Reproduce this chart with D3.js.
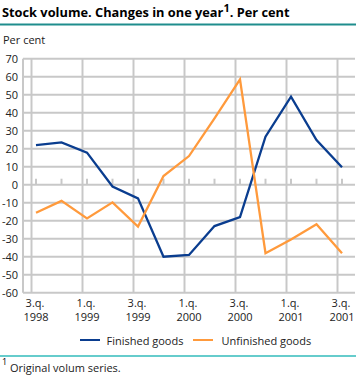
<!DOCTYPE html>
<html><head><meta charset="utf-8">
<script src="https://cdn.jsdelivr.net/npm/d3@7"></script>
<style>
body{margin:0;background:#fff;}
svg{display:block;font-family:"Open Sans",sans-serif;}
</style></head>
<body>
<script>
const categories = ["3q1998","4q1998","1q1999","2q1999","3q1999","4q1999","1q2000","2q2000","3q2000","4q2000","1q2001","2q2001","3q2001"];
const finishedGoods = [22, 23.5, 17.8, -1, -7.6, -40, -39, -23, -18, 26.7, 48.9, 24.8, 9.7];
const unfinishedGoods = [-15.6, -9, -18.7, -9.8, -23.3, 4.8, 15.9, 36.9, 58.5, -38.1, -30.4, -22, -38.1];
const tickQuarter = ["3.q.","","1.q.","","3.q.","","1.q.","","3.q.","","1.q.","","3.q."];
const tickYear = ["1998","","1999","","1999","","2000","","2000","","2001","","2001"];
const yTicks = [70,60,50,40,30,20,10,0,-10,-20,-30,-40,-50,-60];
const seriesNames = ["Finished goods","Unfinished goods"];
const colors = ["#0a3d8f","#ff9a3c"];

const W=356,H=376;
const svg=d3.select("body").append("svg").attr("width",W).attr("height",H);

const x=d3.scaleBand().domain(categories).range([23.25,354.75]).padding(0);
const cx=c=>x(c)+x.bandwidth()/2;
const y=d3.scaleLinear().domain([-60,70]).range([292.7,58.7]);

// title
const t=svg.append("text").attr("x",2).attr("y",17).attr("font-weight","bold").attr("font-size",12.8).attr("fill","#000");
t.append("tspan").text("Stock volume. Changes in one year");
t.append("tspan").attr("font-size",11).attr("dy",-5).text("1");
t.append("tspan").attr("dy",5).text(". Per cent");
svg.append("line").attr("x1",0).attr("x2",W).attr("y1",24.5).attr("y2",24.5).attr("stroke","#1f8d8d").attr("stroke-width",2);

svg.append("text").attr("x",3).attr("y",44).attr("font-size",11).attr("fill","#222").text("Per cent");

const grid="#c8c8c8";
// horizontal gridlines
svg.append("g").selectAll("line").data(yTicks).join("line")
  .attr("x1",23).attr("x2",355).attr("y1",d=>y(d)).attr("y2",d=>y(d))
  .attr("stroke",grid).attr("stroke-width",2);
// vertical gridlines
svg.append("g").selectAll("line").data(categories.filter((c,i)=>i%2===0)).join("line")
  .attr("x1",d=>cx(d)-4.5).attr("x2",d=>cx(d)-4.5).attr("y1",y(70)).attr("y2",y(-60))
  .attr("stroke",grid).attr("stroke-width",2);
// left axis
svg.append("line").attr("x1",23).attr("x2",23).attr("y1",y(70)).attr("y2",y(-60)).attr("stroke",grid).attr("stroke-width",2);
// tick marks on zero line
svg.append("g").selectAll("line").data(categories).join("line")
  .attr("x1",d=>cx(d)).attr("x2",d=>cx(d)).attr("y1",y(0)).attr("y2",y(0)-6)
  .attr("stroke",grid).attr("stroke-width",2);

// y labels
svg.append("g").selectAll("text").data(yTicks).join("text")
  .attr("x",18).attr("y",d=>y(d)).attr("dy","0.35em").attr("text-anchor","end")
  .attr("font-size",11).attr("fill","#222").text(d=>d);

// x labels
const xl=svg.append("g").selectAll("g").data(categories.map((c,i)=>({c,q:tickQuarter[i],yr:tickYear[i]})).filter(d=>d.q)).join("g");
xl.append("text").attr("x",d=>cx(d.c)-1).attr("y",307).attr("text-anchor","middle").attr("font-size",11).attr("fill","#222").text(d=>d.q);
xl.append("text").attr("x",d=>cx(d.c)).attr("y",321).attr("text-anchor","middle").attr("font-size",11).attr("fill","#222").text(d=>d.yr);

// lines
const line=d3.line().x((d,i)=>cx(categories[i])).y(d=>y(d));
[finishedGoods,unfinishedGoods].forEach((s,k)=>{
  svg.append("path").datum(s).attr("d",line).attr("fill","none").attr("stroke",colors[k]).attr("stroke-width",2.3).attr("stroke-linejoin","miter");
});

// legend
const leg=[{x:80,tx:106.5},{x:193,tx:221.5}];
leg.forEach((l,k)=>{
  svg.append("line").attr("x1",l.x).attr("x2",l.x+20).attr("y1",340).attr("y2",340).attr("stroke",colors[k]).attr("stroke-width",2);
  svg.append("text").attr("x",l.tx).attr("y",344.5).attr("font-size",11).attr("fill","#222").text(seriesNames[k]);
});

// footer
svg.append("line").attr("x1",0).attr("x2",W).attr("y1",356).attr("y2",356).attr("stroke","#66cccc").attr("stroke-width",2);
svg.append("text").attr("x",2).attr("y",365).attr("font-size",9).attr("fill","#000").text("1");
svg.append("text").attr("x",10).attr("y",372).attr("font-size",11).attr("fill","#222").text("Original volum series.");
</script>
</body></html>
